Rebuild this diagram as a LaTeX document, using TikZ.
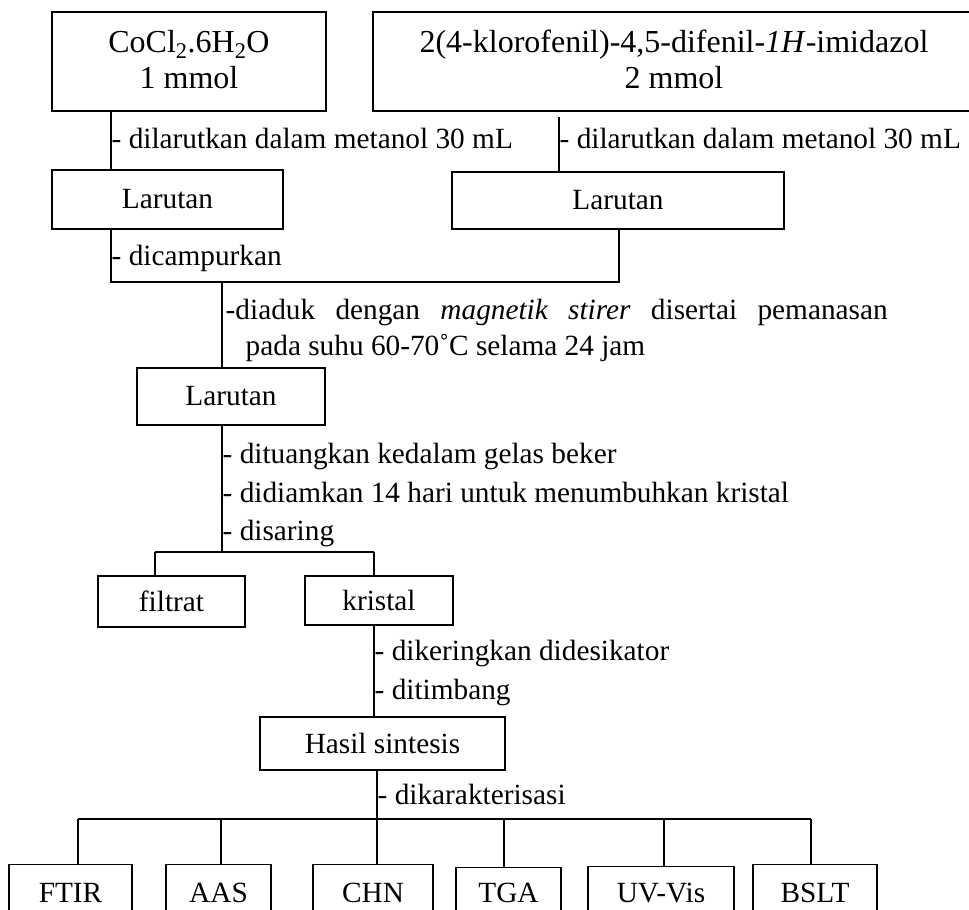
\documentclass[tikz,border=0pt]{standalone}
\usepackage{fontspec}
\setmainfont{Liberation Serif}
\begin{document}
\begin{tikzpicture}[x=1pt,y=-1pt, line width=1.4pt,
  font=\fontsize{29.3}{36}\selectfont,
  box/.style={draw, inner sep=0pt, align=center},
  topbox/.style={box, font=\fontsize{32}{36}\selectfont},
  lbl/.style={anchor=base west, inner sep=0pt},
  bbox/.style={draw, anchor=north, inner xsep=0pt, inner ysep=0pt, text height=38pt, text depth=40pt}]
\useasboundingbox (0,0) rectangle (969,910);
\clip (0,0) rectangle (969,910);
% boxes
\node[topbox, minimum width=274pt, minimum height=99pt] (co) at (189,61.5) {CoCl\textsubscript{2}.6H\textsubscript{2}O\\1 mmol\rule[-5pt]{0pt}{0pt}};
\node[topbox, minimum width=602pt, minimum height=99pt] (im) at (674,61.5) {2(4-klorofenil)-4,5-difenil-\textit{1H}-imidazol\\2 mmol\rule[-5pt]{0pt}{0pt}};
\node[box, minimum width=231pt, minimum height=59pt] (lar1) at (167.5,199.5) {Larutan};
\node[box, minimum width=332pt, minimum height=57pt] (lar2) at (618,200.5) {Larutan};
\node[box, minimum width=188pt, minimum height=57pt] (lar3) at (231,396.5) {Larutan};
\node[box, minimum width=147pt, minimum height=51pt] (filtrat) at (171.5,601.5) {filtrat};
\node[box, minimum width=148pt, minimum height=49pt] (kristal) at (379,600.5) {kristal};
\node[box, minimum width=245pt, minimum height=53pt] (hasil) at (382.5,743.5) {Hasil sintesis};
\node[bbox, minimum width=123pt] (ftir) at (70.5,864) {FTIR};
\node[bbox, minimum width=105pt] (aas) at (218.5,864) {AAS};
\node[bbox, minimum width=120pt] (chn) at (373,864) {CHN};
\node[bbox, minimum width=105pt, text height=35pt, text depth=43pt] (tga) at (508.5,867) {TGA};
\node[bbox, minimum width=146pt, text height=36pt, text depth=42pt] (uv) at (661,866) {UV-Vis};
\node[bbox, minimum width=124pt] (bslt) at (815,864) {BSLT};
% junction coordinates
\coordinate (c1) at (111,0);
\coordinate (g2) at (559,117);
\coordinate (c3) at (619,0);
\coordinate (j1) at (222,282);
\coordinate (j2) at (222,552);
\coordinate (j2l) at (155,552);
\coordinate (j2r) at (374,552);
\coordinate (j3) at (377,819);
\coordinate (b1) at (78,819);
\coordinate (b2) at (221,819);
\coordinate (b4) at (504,819);
\coordinate (b5) at (664,819);
\coordinate (b6) at (811,819);
% connectors
\draw (co.south -| c1) -- (lar1.north -| c1);
\draw (g2) -- (lar2.north -| g2);
\draw (lar1.south -| c1) |- (j1);
\draw (lar2.south -| c3) |- (j1);
\draw (j1) -- (lar3.north -| j1);
\draw (lar3.south -| j2) -- (j2);
\draw (j2l) -- (j2r);
\draw (j2l) -- (filtrat.north -| j2l);
\draw (j2r) -- (kristal.north -| j2r);
\draw (kristal.south -| j2r) -- (hasil.north -| j2r);
\draw (hasil.south -| j3) -- (j3);
\draw (b1) -- (b6);
\draw (b1) -- (ftir.north -| b1);
\draw (b2) -- (aas.north -| b2);
\draw (j3) -- (chn.north -| j3);
\draw (b4) -- (tga.north -| b4);
\draw (b5) -- (uv.north -| b5);
\draw (b6) -- (bslt.north -| b6);
% labels
\node[lbl] (t1) at (111,148) {- dilarutkan dalam metanol 30 mL};
\node[lbl] (t2) at (559,148) {- dilarutkan dalam metanol 30 mL};
\node[lbl] (t3) at (111,265) {- dicampurkan};
\node[lbl] (t4a) at (225,319) {\makebox[662pt][s]{-diaduk dengan \textit{magnetik stirer} disertai pemanasan}};
\node[lbl] (t4b) at (245,355) {pada suhu 60-70\symbol{"02DA}C selama 24 jam};
\node[lbl] (t5) at (222,463) {- dituangkan kedalam gelas beker};
\node[lbl] (t6) at (222,502) {- didiamkan 14 hari untuk menumbuhkan kristal};
\node[lbl] (t7) at (222,540) {- disaring};
\node[lbl] (t8) at (374,660) {- dikeringkan didesikator};
\node[lbl] (t9) at (374,699) {- ditimbang};
\node[lbl] (t10) at (377,804) {- dikarakterisasi};
\end{tikzpicture}
\end{document}
